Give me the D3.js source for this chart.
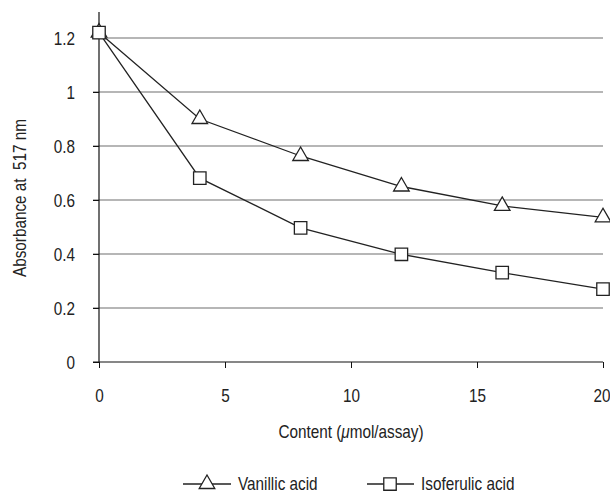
<!DOCTYPE html>
<html><head><meta charset="utf-8">
<script src="https://cdn.jsdelivr.net/npm/d3@7"></script>
<style>
body{margin:0;background:#fff;}
text{font-family:"Liberation Sans",Arial,sans-serif;fill:#222;}
</style></head>
<body><svg id="c" width="610" height="493"></svg>
<script>
const xValues=[0,4,8,12,16,20];
const vanillic=[1.22,0.90,0.763,0.65,0.578,0.536];
const isoferulic=[1.22,0.681,0.497,0.399,0.331,0.27];
const xTicks=[0,5,10,15,20];
const yTicks=[0,0.2,0.4,0.6,0.8,1,1.2];
const seriesNames=["Vanillic acid","Isoferulic acid"];

const FONT="'Liberation Sans',Arial,sans-serif";
const FS=18, SX=0.85;
const svg=d3.select("#c");
const x=d3.scaleLinear().domain([0,20]).range([99,603]);
const y=d3.scaleLinear().domain([0,1.2]).range([362,38]);

function narrow(sel){
  sel.each(function(){
    const t=d3.select(this);
    const tx=+t.attr("x")||0, ty=+t.attr("y")||0;
    t.attr("x",0).attr("y",0).attr("transform",`translate(${tx},${ty}) scale(${SX},1)`);
  });
}

// gridlines
svg.append("g").selectAll("line").data(yTicks.filter(d=>d>0)).join("line")
 .attr("x1",93).attr("x2",603).attr("y1",d=>y(d)).attr("y2",d=>y(d))
 .attr("stroke","#6e6e6e").attr("stroke-width",1.2);

// y axis
const ya=svg.append("g").attr("transform","translate(99,0)")
 .call(d3.axisLeft(y).tickValues(yTicks).tickSize(6).tickPadding(18).tickFormat(d=>d3.format("~g")(d)));
ya.select(".domain").attr("d","M0,12V362").attr("stroke","#111").attr("stroke-width",1.2);
ya.selectAll(".tick line").attr("stroke","#111");
ya.selectAll("text").attr("font-size",FS).style("font-family",FONT).attr("fill","#222").attr("dy","0.36em").call(narrow);

// x axis
const xa=svg.append("g").attr("transform","translate(0,362)")
 .call(d3.axisBottom(x).tickValues(xTicks).tickSize(6).tickPadding(21).tickFormat(d3.format("d")));
xa.select(".domain").attr("d","M93,0H603").attr("stroke","#111").attr("stroke-width",1.2);
xa.selectAll(".tick line").attr("stroke","#111");
xa.selectAll("text").attr("font-size",FS).style("font-family",FONT).attr("fill","#222");
xa.selectAll(".tick").filter(d=>d===20).select("text").attr("text-anchor","end").attr("x",7);
xa.selectAll("text").call(narrow);

const line=d3.line().x((d,i)=>x(xValues[i])).y(d=>y(d));
const tri=d3.symbol().type(d3.symbolTriangle).size(105);
const sq=d3.symbol().type(d3.symbolSquare).size(155);

function drawSeries(data,sym){
  svg.append("path").attr("d",line(data)).attr("fill","none").attr("stroke","#222").attr("stroke-width",1.3);
  svg.append("g").selectAll("path").data(data).join("path")
   .attr("d",sym).attr("transform",(d,i)=>`translate(${x(xValues[i])},${y(d)})`)
   .attr("fill","#fff").attr("stroke","#222").attr("stroke-width",1.3);
}
drawSeries(vanillic,tri);
drawSeries(isoferulic,sq);

// axis titles
const xt=svg.append("text").attr("x",351).attr("y",438).attr("text-anchor","middle").attr("font-size",FS);
xt.append("tspan").text("Content (");
xt.append("tspan").attr("font-style","italic").text("\u03bc");
xt.append("tspan").text("mol/assay)");
xt.call(narrow);
svg.append("text").attr("transform",`translate(26,198) rotate(-90) scale(${SX},1)`).attr("text-anchor","middle").attr("font-size",FS).text("Absorbance at\u00a0 517 nm");

// legend
const leg=[{x1:183,x2:231,cx:207,sym:tri,tx:238,name:seriesNames[0]},{x1:367,x2:414,cx:390,sym:sq,tx:421,name:seriesNames[1]}];
const lg=svg.append("g").selectAll("g").data(leg).join("g");
lg.append("line").attr("x1",d=>d.x1).attr("x2",d=>d.x2).attr("y1",484).attr("y2",484).attr("stroke","#222").attr("stroke-width",1.3);
lg.append("path").attr("d",d=>d.sym()).attr("transform",d=>`translate(${d.cx},484)`).attr("fill","#fff").attr("stroke","#222").attr("stroke-width",1.3);
lg.append("text").attr("x",d=>d.tx).attr("y",490).attr("font-size",FS).text(d=>d.name).call(narrow);
</script></body></html>
